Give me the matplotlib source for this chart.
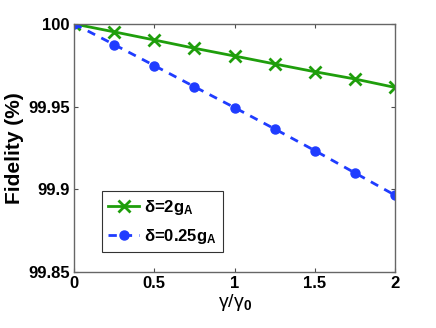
import matplotlib
matplotlib.use('Agg')
import matplotlib.pyplot as plt
import numpy as np

# data
gamma = [0, 0.25, 0.5, 0.75, 1.0, 1.25, 1.5, 1.75, 2.0]
fid_2g = [100, 99.9952, 99.9903, 99.9853, 99.9806, 99.9758, 99.9711, 99.9667, 99.9616]
fid_025g = [100, 99.9875, 99.9748, 99.9620, 99.9494, 99.9365, 99.9234, 99.9099, 99.8964]
xticks = [0, 0.5, 1, 1.5, 2]
xticklabels = ['0', '0.5', '1', '1.5', '2']
yticks = [99.85, 99.9, 99.95, 100]
yticklabels = ['99.85', '99.9', '99.95', '100']

plt.rcParams['font.family'] = ['Liberation Sans', 'DejaVu Sans']
plt.rcParams['font.weight'] = 'bold'
plt.rcParams['mathtext.fontset'] = 'custom'
plt.rcParams['mathtext.rm'] = 'Liberation Sans'
plt.rcParams['mathtext.bf'] = 'Liberation Sans:bold'
plt.rcParams['mathtext.it'] = 'Liberation Sans:italic'

fig = plt.figure(figsize=(4.36, 3.28), dpi=100)
ax = fig.add_axes([0.170, 0.171, 0.736, 0.756])

green = '#1f9e0c'
blue = '#1f3cff'
ax.plot(gamma, fid_2g, '-', color=green, lw=2, marker='x', ms=9, mew=2,
        label=r'δ=2g$_\mathbf{A}$')
ax.plot(gamma, fid_025g, '--', color=blue, lw=2, marker='o', ms=6.5,
        dashes=(3, 2.5), label=r'δ=0.25g$_\mathbf{A}$')

ax.set_xlim(0, 2)
ax.set_ylim(99.85, 100)
ax.set_xticks(xticks)
ax.set_xticklabels(xticklabels)
ax.set_yticks(yticks)
ax.set_yticklabels(yticklabels)
ax.tick_params(direction='in', top=True, right=True, labelsize=12, length=3,
               color='0.3', pad=3)
for s in ax.spines.values():
    s.set_color('0.4')
    s.set_linewidth(1)

ax.set_ylabel('Fidelity (%)', fontsize=15, fontweight='bold', labelpad=3)
ax.set_xlabel(r'$\mathregular{γ/γ}_\mathbf{0}$', fontsize=14, labelpad=1)

leg = ax.legend(loc='lower left', bbox_to_anchor=(0.086, 0.079), fontsize=12,
                frameon=True, fancybox=False, edgecolor='black',
                handlelength=1.85, handletextpad=0.3, borderpad=0.4,
                labelspacing=0.6, borderaxespad=0)
leg.get_frame().set_linewidth(0.8)

plt.savefig('out.png', dpi=100)
